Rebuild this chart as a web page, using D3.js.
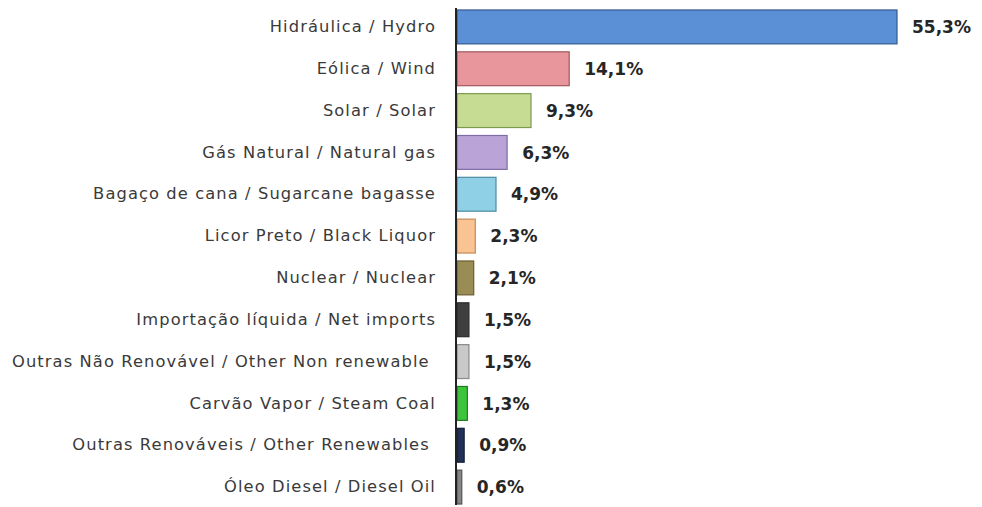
<!DOCTYPE html>
<html><head><meta charset="utf-8">
<script src="https://cdn.jsdelivr.net/npm/d3@7"></script>
<style>body{margin:0;background:#fff}svg{display:block}</style>
</head><body>
<svg id="c" width="982" height="507"></svg>
<script>
const categories = [
  "Hidráulica / Hydro",
  "Eólica / Wind",
  "Solar / Solar",
  "Gás Natural / Natural gas",
  "Bagaço de cana / Sugarcane bagasse",
  "Licor Preto / Black Liquor",
  "Nuclear / Nuclear",
  "Importação líquida / Net imports",
  "Outras Não Renovável / Other Non renewable ",
  "Carvão Vapor / Steam Coal",
  "Outras Renováveis / Other Renewables ",
  "Óleo Diesel / Diesel Oil"
];
const values = [55.3, 14.1, 9.3, 6.3, 4.9, 2.3, 2.1, 1.5, 1.5, 1.3, 0.9, 0.6];
const valueLabels = ["55,3%","14,1%","9,3%","6,3%","4,9%","2,3%","2,1%","1,5%","1,5%","1,3%","0,9%","0,6%"];
const fills = ["#5b8fd6","#e8959b","#c6dc92","#b9a3d7","#8fd0e6","#f9c392","#9a8c55","#3f3f3f","#c9c9c9","#3cc43c","#213057","#858585"];
const strokes = ["#34598f","#a0595e","#7b9a50","#7f6ba6","#4a8ba2","#c28a57","#6b5f32","#2a2a2a","#8a8a8a","#1d7a1d","#131c36","#555555"];

const svg = d3.select("#c");
const x0 = 457;
const x = d3.scaleLinear().domain([0, 55.3]).range([x0, 897]);
const y = d3.scaleBand().domain(categories).range([6, 508]).paddingInner(0.19).paddingOuter(0.095);

svg.selectAll("rect.bar").data(values).enter().append("rect")
  .attr("class","bar")
  .attr("x", x0)
  .attr("y", (d,i) => y(categories[i]))
  .attr("width", d => x(d) - x0)
  .attr("height", y.bandwidth())
  .attr("fill", (d,i) => fills[i])
  .attr("stroke", (d,i) => strokes[i])
  .attr("stroke-width", 1.2);

const yAxis = d3.axisLeft(y).tickSize(0).tickPadding(20);
const g = svg.append("g").attr("transform", `translate(${x0-1},0)`).call(yAxis);
g.select(".domain").attr("d", "M0,8V505").attr("stroke", "#222").attr("stroke-width", 2);
g.selectAll(".tick text")
  .attr("font-family", "'DejaVu Sans', sans-serif")
  .attr("font-size", 16.3)
  .attr("letter-spacing", 1.1)
  .attr("fill", "#3a3a3a")
  .style("white-space", "pre");

svg.selectAll("text.val").data(values).enter().append("text")
  .attr("class","val")
  .attr("x", d => x(d) + 15)
  .attr("y", (d,i) => y(categories[i]) + y.bandwidth()/2)
  .attr("dy", "0.36em")
  .attr("font-family", "'DejaVu Sans', sans-serif")
  .attr("font-weight", "bold")
  .attr("font-size", 17)
  .attr("fill", "#262626")
  .text((d,i) => valueLabels[i]);
</script>
</body></html>
